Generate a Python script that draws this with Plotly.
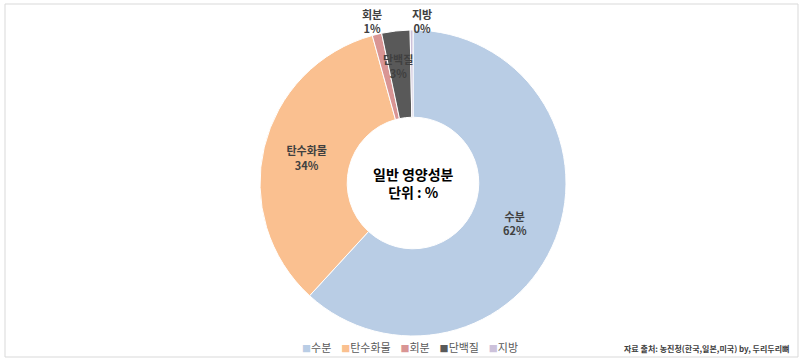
import plotly.graph_objects as go

labels = ["수분", "탄수화물", "회분", "단백질", "지방"]
values = [62, 34, 1, 3, 0.3]
colors = ["#B9CDE5", "#FAC090", "#D99594", "#595959", "#CCC1DA"]
positions = ["inside", "inside", "none", "none", "none"]
center_title = "일반 영양성분<br>단위 : %"
source_text = "자료 출처: 농진청(한국,일본,미국) by, 두리두리뼈"
# labels placed by annotation (slice index, x, y in pixels)
placed_labels = [(2, 372, 21), (4, 422, 21), (3, 398, 66)]

W, H = 805, 364
CX, CY, R = 413, 183, 153
total = sum(values)

def px(x):
    return x / W

def py(y):
    return 1 - y / H

fig = go.Figure()
fig.add_trace(go.Pie(
    labels=labels, values=values, sort=False, direction="clockwise", rotation=0,
    hole=0.43,
    marker=dict(colors=colors, line=dict(color="white", width=1)),
    textposition=positions,
    insidetextorientation="horizontal",
    texttemplate="<b>%{label}</b><br><b>%{percent:.0%}</b>",
    textfont=dict(family="Noto Sans CJK KR", size=11, color="#404040"),
    domain=dict(x=[px(CX - R), px(CX + R)], y=[py(CY + R), py(CY - R)]),
    showlegend=False,
    hoverinfo="label+percent",
))

annotations = [
    dict(text="<b>" + center_title + "</b>", x=px(CX), y=py(CY), xref="paper", yref="paper",
         showarrow=False, font=dict(size=14, color="black", family="Noto Sans CJK KR")),
    dict(text="<b>" + source_text + "</b>", x=px(791), y=py(348), xref="paper", yref="paper",
         xanchor="right", yanchor="middle", showarrow=False,
         font=dict(size=8, color="#404040", family="Noto Sans CJK KR")),
]
for idx, x, y in placed_labels:
    pct = round(values[idx] / total * 100)
    annotations.append(dict(
        text=f"<b>{labels[idx]}</b><br><b>{pct}%</b>", x=px(x), y=py(y), xref="paper", yref="paper",
        showarrow=False, xanchor="center", yanchor="middle",
        font=dict(size=11, color="#404040", family="Noto Sans CJK KR")))

# legend built from labels / colors
legend_parts = [
    f'<span style="color:{c};font-size:9px">■</span>{lab}' for lab, c in zip(labels, colors)
]
annotations.append(dict(
    text="&nbsp;&nbsp;&nbsp;&nbsp;".join(legend_parts), x=px(410), y=py(347), xref="paper", yref="paper",
    showarrow=False, xanchor="center", yanchor="middle",
    font=dict(size=11, color="#595959", family="Noto Sans CJK KR")))

fig.update_layout(
    width=W, height=H,
    margin=dict(l=0, r=0, t=0, b=0),
    paper_bgcolor="white", plot_bgcolor="white",
    font=dict(family="Noto Sans CJK KR"),
    showlegend=False,
    annotations=annotations,
    shapes=[dict(type="rect", xref="paper", yref="paper", x0=px(5), x1=px(798), y0=py(357), y1=py(4),
                 line=dict(color="#D9D9D9", width=1), fillcolor="rgba(0,0,0,0)", layer="below")],
)
fig.write_html("out.html", config={"displayModeBar": False},
               post_script="document.body.style.margin='0';")
